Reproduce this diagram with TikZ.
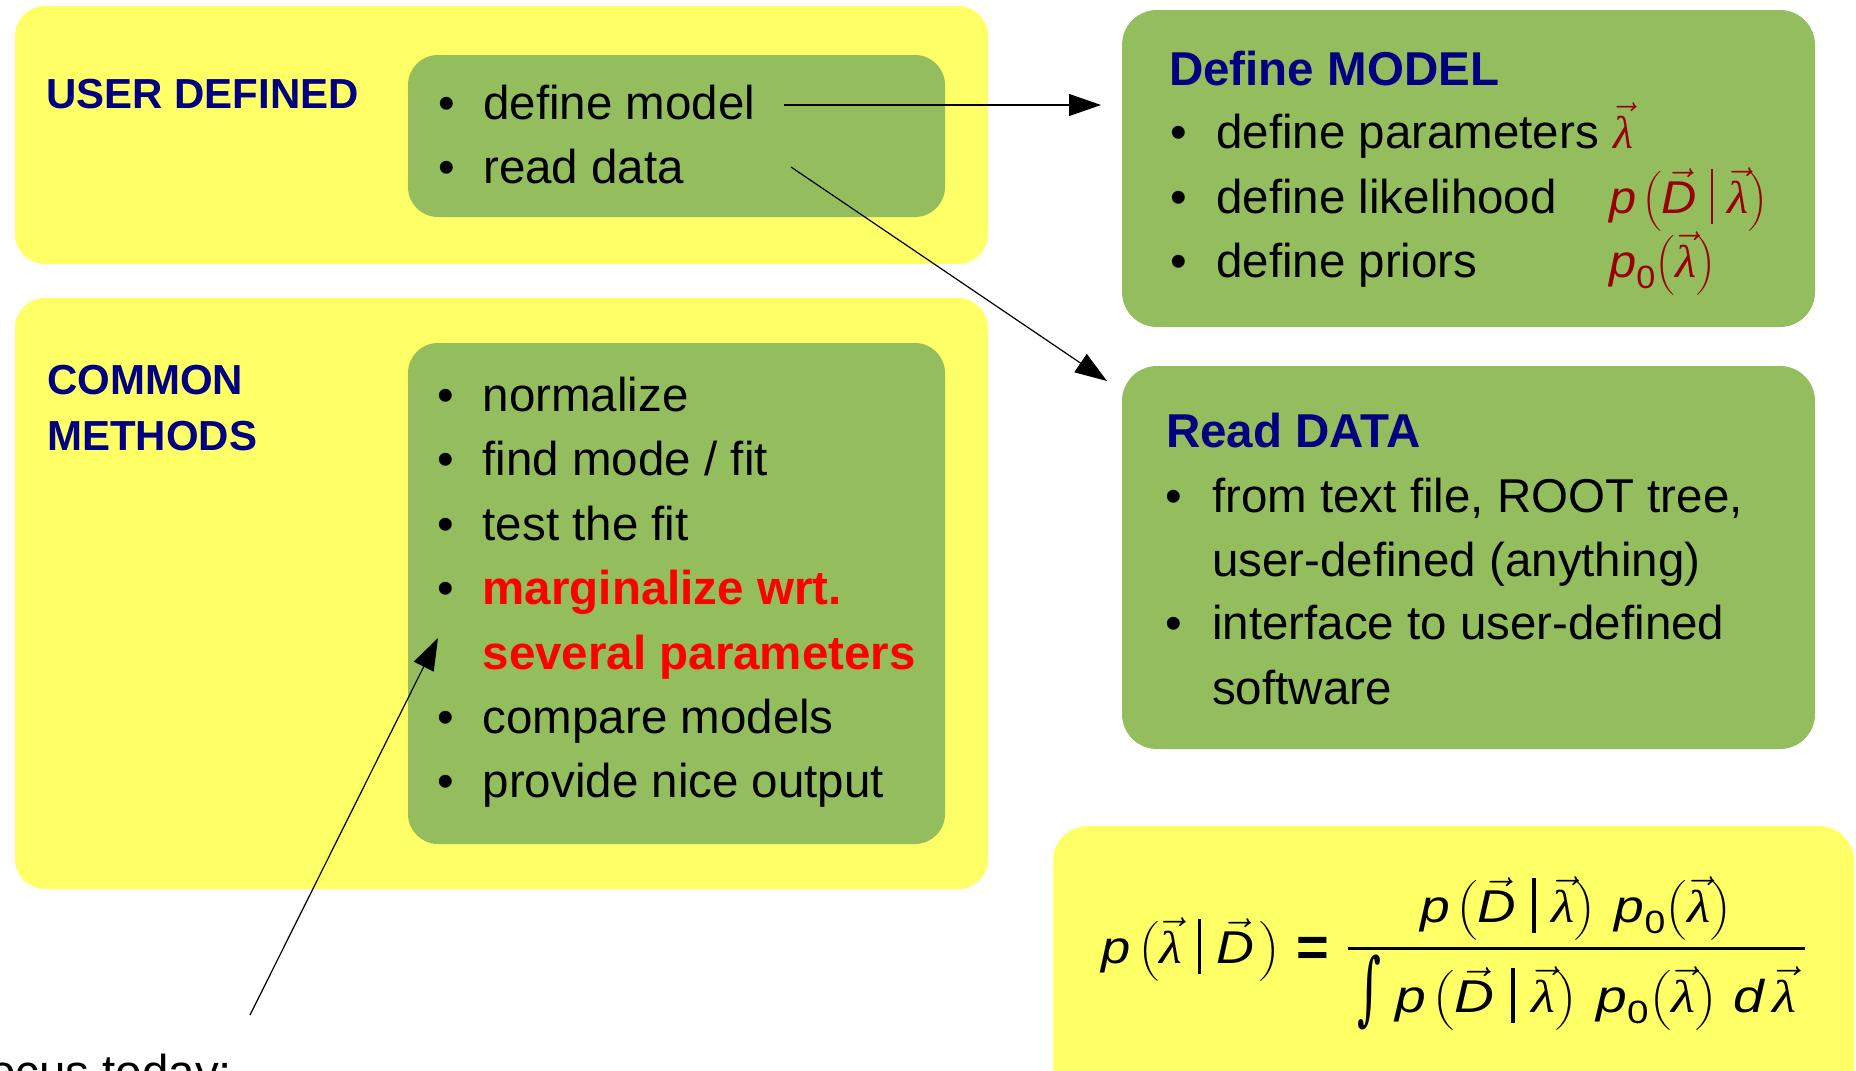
\RequirePackage{fix-cm}
\documentclass[tikz,border=0pt]{standalone}
\usepackage{amsmath}
\usepackage{graphicx}
\usepackage{fontspec}
\setmainfont{Liberation Sans}
\newfontfamily\lamfont{Liberation Serif}
\newfontfamily\djs{DejaVu Serif}
\usetikzlibrary{arrows.meta}
\definecolor{yel}{HTML}{FFFF66}
\definecolor{grn}{HTML}{94BD5E}
\definecolor{navy}{HTML}{000080}
\definecolor{dred}{HTML}{990000}
\definecolor{bred}{HTML}{FF0000}
\newcommand{\fp}{\textit{p}}
\newcommand{\vD}{\vec{\textit{D}}}
\newcommand{\vl}{\vec{\text{\lamfont\itshape λ}}}
\newcommand{\fzero}{_{\text{0}}}
\newcommand{\vbar}[1]{\rule[-0.24em]{#1}{1.2em}}
\newcommand{\plik}[1]{\fp\hspace{.12em}\bigl(\vD\hspace{.3em}\vbar{#1}\hspace{.3em}\vl\bigr)}
\newcommand{\ppri}{\fp\fzero\bigl(\vl\bigr)}
\tikzset{
  ybox/.style={fill=yel, rounded corners=30pt, inner sep=0pt},
  gbox/.style={fill=grn, rounded corners=30pt, inner sep=0pt},
  btxt/.style={anchor=base west, inner sep=0pt, font=\fontsize{47.5}{57}\selectfont},
  bul/.style={anchor=base, inner sep=0pt, font=\fontsize{47.5}{57}\selectfont},
  ttl/.style={anchor=base west, inner sep=0pt, text=navy, font=\fontsize{47.5}{57}\selectfont\bfseries},
  sttl/.style={anchor=base west, inner sep=0pt, text=navy, font=\fontsize{42}{50}\selectfont\bfseries},
  conn/.style={line width=1.2pt, -{Triangle[length=32pt,width=22pt]}},
  fml/.style={inner sep=0pt, font=\fontsize{46}{55}\selectfont},
  rml/.style={inner sep=0pt, anchor=base west, text=dred, font=\fontsize{46}{55}\selectfont},
}
\begin{document}
\begin{tikzpicture}[x=1pt,y=-1pt]
\useasboundingbox (0,0) rectangle (1856,1071);
\clip (0,0) rectangle (1856,1071);
% boxes
\node[ybox, minimum width=973pt, minimum height=258pt] (udY) at (501.5,135) {};
\node[gbox, minimum width=537pt, minimum height=162pt] (udG) at (676.5,136) {};
\node[ybox, minimum width=973pt, minimum height=591pt] (cmY) at (501.5,593.5) {};
\node[gbox, minimum width=537pt, minimum height=501pt] (cmG) at (676.5,593.5) {};
\node[gbox, rounded corners=35pt, minimum width=693pt, minimum height=317pt] (modB) at (1468.5,168.5) {};
\node[gbox, rounded corners=35pt, minimum width=693pt, minimum height=383pt] (datB) at (1468.5,557.5) {};
\node[ybox, rounded corners=35pt, minimum width=801pt, minimum height=294pt] (fmB) at (1453.5,973) {};
% user defined
\node[sttl] (udT) at (46,108) {USER DEFINED};
\node[bul] (b1) at (447,119) {•};
\node[btxt] (dm) at (483,119) {define model};
\node[bul] (b2) at (447,183) {•};
\node[btxt] (rd) at (483,183) {read data};
% common methods
\node[sttl] (cmT1) at (47,394) {COMMON};
\node[sttl] (cmT2) at (47,450) {METHODS};
\node[bul] (c1) at (446,411) {•};
\node[btxt] (nrm) at (482.5,411) {normalize};
\node[bul] (c2) at (446,475.5) {•};
\node[btxt] (fmf) at (482.5,475.5) {find mode / fit};
\node[bul] (c3) at (446,540) {•};
\node[btxt] (ttf) at (482.5,540) {test the fit};
\node[bul] (c4) at (446,604.5) {•};
\node[btxt, text=bred, font=\fontsize{47.5}{57}\selectfont\bfseries] (mrg) at (482.5,604.5) {marginalize wrt.};
\node[btxt, text=bred, font=\fontsize{47.5}{57}\selectfont\bfseries] (sev) at (482.5,669) {several parameters};
\node[bul] (c5) at (446,733) {•};
\node[btxt] (cmp) at (482.5,733) {compare models};
\node[bul] (c6) at (446,797) {•};
\node[btxt] (pno) at (482.5,797) {provide nice output};
% define model
\node[ttl] (mT) at (1169,85) {Define MODEL};
\node[bul] (m1) at (1179,148) {•};
\node[btxt] (dpar) at (1216,148) {define parameters};
\node[bul] (m2) at (1179,213) {•};
\node[btxt] (dlik) at (1216,213) {define likelihood};
\node[bul] (m3) at (1179,277) {•};
\node[btxt] (dpri) at (1216,277) {define priors};
\node[rml] (lam1) at (1613,148) {$\vl$};
\node[rml] (lik) at (1609,213) {\scalebox{1.06}[1]{$\plik{1.5pt}$}};
\node[rml] (pri) at (1609,277) {\scalebox{1.06}[1]{$\ppri$}};
% read data
\node[ttl] (dT) at (1166,447) {Read DATA};
\node[bul] (r1) at (1174,512) {•};
\node[btxt] (ftf) at (1212,512) {from text file, ROOT tree,};
\node[btxt] (udf) at (1212,576) {user-defined (anything)};
\node[bul] (r2) at (1174,639) {•};
\node[btxt] (itf) at (1212,639) {interface to user-defined};
\node[btxt] (sfw) at (1212,704) {software};
% formula
\node[fml, anchor=base west] (lhs) at (1101,963) {\scalebox{1.14}[1]{$\fp\hspace{.15em}\bigl(\vl\hspace{.3em}\vbar{3pt}\hspace{.3em}\vD\hspace{.1em}\bigr)$}};
\node[anchor=base, inner sep=0pt, font=\fontsize{56}{60}\selectfont\bfseries] (eq) at (1313,966) {=};
\coordinate (fbl) at (1348,948);
\coordinate (fbr) at (1805,948);
\draw[line width=3pt] (fbl) -- (fbr);
\node[fml, anchor=base] (num) at (1576,922) {\scalebox{1.16}[1]{$\plik{3pt}\hspace{.35em}\ppri$}};
\node[inner sep=0pt] (intg) at (1369,992.5) {\resizebox*{24pt}{75pt}{\djs ∫}};
\node[fml, anchor=base] (den) at (1596,1012) {\scalebox{1.2}[1]{$\plik{3pt}\hspace{.35em}\ppri\hspace{.3em}\textit{d}\hspace{.15em}\vl$}};
% focus
\node[btxt] (focus) at (-40,1088) {Focus today:};
% connectors
\coordinate (a1s) at (784,105);
\coordinate (a1e) at (1101,105);
\coordinate (a2s) at (791,167);
\coordinate (a2e) at (1107,381);
\coordinate (a3s) at (250,1015);
\coordinate (a3e) at (438,638);
\draw[conn] (a1s) -- (a1e);
\draw[conn] (a2s) -- (a2e);
\draw[conn] (a3s) -- (a3e);
\end{tikzpicture}
\end{document}
